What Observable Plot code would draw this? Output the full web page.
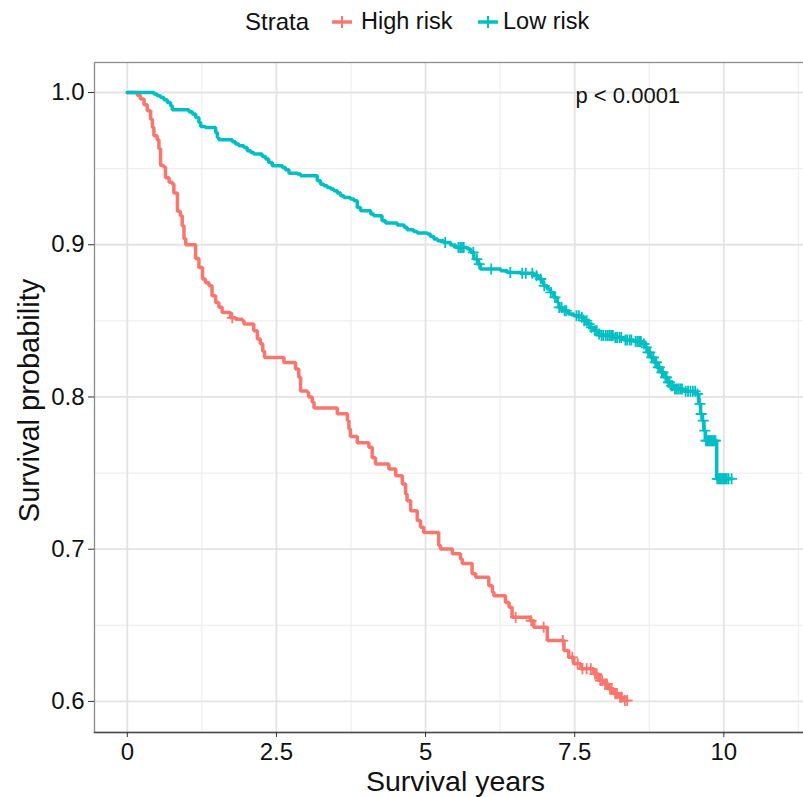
<!DOCTYPE html>
<html>
<head>
<meta charset="utf-8">
<script src="https://cdn.jsdelivr.net/npm/d3@7"></script>
<script src="https://cdn.jsdelivr.net/npm/@observablehq/plot@0.6"></script>
<style>
  html, body { margin: 0; padding: 0; background: #fff; overflow: hidden; width: 803px; height: 797px; }
  #legend { position: relative; height: 44px; width: 803px; font-family: "Liberation Sans", Arial, sans-serif; color: #111; }
  #legend .item { position: absolute; top: 22px; transform: translateY(-50%); white-space: nowrap; line-height: 1; }
  #chart svg { max-width: none !important; display: block; }
</style>
</head>
<body>
<div id="legend"></div>
<div id="chart"></div>
<script>
// ---- data ----
const strata = ["High risk", "Low risk"];
const strataColors = ["#F8766D", "#00BFC4"];

const xMajor = [0, 2.5, 5, 7.5, 10];
const xMinor = [1.25, 3.75, 6.25, 8.75, 11.25];
const yMajor = [0.6, 0.7, 0.8, 0.9, 1.0];
const yMinor = [0.65, 0.75, 0.85, 0.95];

// [time, survival] step points
const highRisk = [
  [0,1],[0.17,0.998],[0.22,0.9957],[0.28,0.992],[0.335,0.988],[0.39,0.9825],[0.42,0.977],[0.446,0.9716],
  [0.50,0.969],[0.53,0.963],[0.558,0.952],[0.61,0.951],[0.64,0.944],[0.70,0.941],[0.75,0.94],[0.78,0.934],
  [0.84,0.922],[0.89,0.919],[0.92,0.9125],[0.95,0.904],[0.98,0.90],[1.145,0.891],[1.20,0.885],[1.26,0.8775],
  [1.31,0.875],[1.37,0.873],[1.42,0.8665],[1.48,0.862],[1.535,0.859],[1.59,0.8555],[1.73,0.852],[1.815,0.851],
  [1.93,0.85],[1.955,0.848],[2.12,0.8435],[2.18,0.838],[2.23,0.835],[2.27,0.830],[2.30,0.826],[2.625,0.8227],
  [2.82,0.8184],[2.875,0.813],[2.905,0.804],[3.02,0.803],[3.04,0.80],[3.10,0.7965],[3.13,0.7928],[3.52,0.789],
  [3.69,0.7845],[3.715,0.779],[3.74,0.774],[3.855,0.770],[4.05,0.767],[4.105,0.760],[4.16,0.756],[4.385,0.7527],
  [4.50,0.7483],[4.61,0.7429],[4.665,0.7363],[4.69,0.7319],[4.75,0.7253],[4.86,0.7188],[4.915,0.7144],[4.97,0.711],
  [5.22,0.7024],[5.25,0.7002],[5.45,0.697],[5.585,0.6936],[5.615,0.6906],[5.78,0.6838],[5.84,0.6816],[6.06,0.676],
  [6.12,0.6717],[6.145,0.6695],[6.34,0.665],[6.40,0.6618],[6.45,0.6553],[6.76,0.653],[6.815,0.6487],[7.04,0.640],
  [7.32,0.6334],[7.40,0.629],[7.485,0.6247],[7.60,0.6214],[7.82,0.618],[7.905,0.6137],[7.99,0.6115],[8.07,0.6083],
  [8.155,0.605],[8.24,0.6028],[8.32,0.6006],[8.38,0.6006]
];
const lowRisk = [
  [0,1],[0.446,0.999],[0.50,0.9978],[0.558,0.9967],[0.613,0.9952],[0.67,0.9934],[0.726,0.9913],[0.754,0.9886],
  [1.033,0.9873],[1.09,0.9858],[1.145,0.9836],[1.20,0.9803],[1.23,0.9777],[1.31,0.977],[1.48,0.9737],[1.51,0.9705],
  [1.535,0.969],[1.76,0.9676],[1.815,0.9661],[1.87,0.965],[1.955,0.9639],[2.01,0.9617],[2.07,0.9606],[2.12,0.9596],
  [2.26,0.958],[2.32,0.9563],[2.37,0.954],[2.43,0.9519],[2.60,0.9508],[2.65,0.9492],[2.71,0.947],[2.85,0.9464],
  [2.905,0.9453],[3.185,0.942],[3.24,0.9398],[3.295,0.9387],[3.35,0.9376],[3.41,0.9366],[3.46,0.9355],[3.52,0.934],
  [3.575,0.9322],[3.63,0.9311],[3.74,0.930],[3.80,0.9289],[3.855,0.9245],[3.91,0.9223],[4.08,0.9202],[4.13,0.919],
  [4.27,0.9158],[4.33,0.9142],[4.525,0.913],[4.64,0.9114],[4.69,0.9099],[4.80,0.9087],[4.86,0.9077],[5.03,0.907],
  [5.08,0.9054],[5.14,0.9037],[5.20,0.9026],[5.30,0.9015],[5.42,0.8998],[5.50,0.8982],[5.70,0.8972],[5.755,0.895],
  [5.81,0.8906],[5.87,0.8873],[5.92,0.884],[6.26,0.8829],[6.37,0.8818],[6.59,0.8812],[6.815,0.8796],[6.90,0.8775],
  [6.955,0.8752],[6.98,0.873],[7.04,0.8709],[7.095,0.8687],[7.15,0.8654],[7.21,0.8621],[7.235,0.8588],[7.29,0.8567],
  [7.40,0.8545],[7.485,0.8534],[7.60,0.8523],[7.65,0.8501],[7.71,0.8479],[7.765,0.8457],[7.82,0.8435],[7.88,0.8414],
  [7.93,0.8403],[8.155,0.8391],[8.32,0.8374],[8.49,0.8365],[8.63,0.8348],[8.69,0.8326],[8.715,0.8293],[8.77,0.826],
  [8.83,0.8227],[8.88,0.8194],[8.94,0.8162],[8.995,0.8129],[9.05,0.8096],[9.105,0.8074],[9.16,0.8053],[9.33,0.8037],
  [9.525,0.802],[9.58,0.7954],[9.61,0.7888],[9.64,0.7844],[9.665,0.7779],[9.69,0.7713],[9.88,0.7462],[10.13,0.7462]
];

// censoring times
const highCensor = [1.76, 6.51, 6.77, 6.98, 7.30, 7.46, 7.55, 7.63, 7.70, 7.77, 7.84, 7.87, 7.93, 7.96,
  8.01, 8.04, 8.09, 8.12, 8.18, 8.21, 8.26, 8.29, 8.34, 8.38];
const lowCensor = [5.33, 5.55, 5.58, 5.61, 5.64, 5.80, 5.86, 5.90, 6.10, 6.42, 6.62, 6.68, 6.79, 6.86, 6.93,
  6.99, 7.10, 7.17, 7.24, 7.28, 7.33, 7.36, 7.53, 7.57, 7.62, 7.66, 7.70, 7.74, 7.78, 7.84, 7.87, 7.91, 7.95,
  7.98, 8.02, 8.05, 8.08, 8.11, 8.14, 8.18, 8.21, 8.25, 8.28, 8.35, 8.38, 8.42, 8.45, 8.52, 8.55, 8.58, 8.61,
  8.66, 8.70, 8.73, 8.76, 8.79, 8.82, 8.85, 8.87, 8.90, 8.92, 8.96, 8.98, 9.02, 9.04, 9.07, 9.09, 9.12, 9.14,
  9.18, 9.21, 9.24, 9.27, 9.30, 9.36, 9.40, 9.44, 9.48, 9.52, 9.56, 9.60, 9.62, 9.655, 9.68, 9.70, 9.72, 9.74,
  9.76, 9.78, 9.80, 9.82, 9.84, 9.86, 9.89, 9.91, 9.93, 9.95, 9.97, 9.99, 10.01, 10.03, 10.05, 10.08, 10.13];

const pLabel = "p < 0.0001";
const xLabel = "Survival years";
const yLabel = "Survival probability";
const legendTitle = "Strata";

// ---- helpers ----
function survAt(curve, t) {
  let s = 1;
  for (const [ti, si] of curve) { if (ti <= t) s = si; else break; }
  return s;
}
const plusSymbol = {
  draw(ctx, size) {
    const r = Math.sqrt(size / Math.PI);
    ctx.moveTo(-r, 0); ctx.lineTo(r, 0);
    ctx.moveTo(0, -r); ctx.lineTo(0, r);
  }
};
const curves = [highRisk, lowRisk];
const censors = [highCensor, lowCensor];
const censorPts = censors.map((ts, k) => ts.map(t => ({t, s: survAt(curves[k], t)})));

// ---- legend ----
const legend = document.getElementById("legend");
function addItem(left, html) {
  const d = document.createElement("div");
  d.className = "item"; d.style.left = left + "px"; d.innerHTML = html;
  legend.appendChild(d);
}
function glyph(color) {
  return `<svg width="20" height="20" style="display:block"><line x1="0" x2="20" y1="10" y2="10" stroke="${color}" stroke-width="3.5"/><line x1="10" x2="10" y1="4" y2="16" stroke="${color}" stroke-width="2"/></svg>`;
}
addItem(245, `<span style="font-size:24px">${legendTitle}</span>`);
addItem(332, glyph(strataColors[0]));
addItem(361, `<span style="font-size:23.5px">${strata[0]}</span>`);
addItem(478, glyph(strataColors[1]));
addItem(503, `<span style="font-size:23.5px">${strata[1]}</span>`);

// ---- chart ----
const font = "Liberation Sans, Arial, sans-serif";
const plot = Plot.plot({
  width: 816,
  height: 753,
  marginTop: 18,
  marginBottom: 65,
  marginLeft: 94,
  marginRight: 0.2,
  style: {fontFamily: font, maxWidth: "none", background: "white", color: "#111"},
  x: {domain: [-0.55, 11.55]},
  y: {domain: [0.5796, 1.0197]},
  marks: [
    Plot.gridX(xMinor, {stroke: "#ebebeb", strokeOpacity: 1, strokeWidth: 1}),
    Plot.gridY(yMinor, {stroke: "#ebebeb", strokeOpacity: 1, strokeWidth: 1}),
    Plot.gridX(xMajor, {stroke: "#e3e3e3", strokeOpacity: 1, strokeWidth: 1.8}),
    Plot.gridY(yMajor, {stroke: "#e3e3e3", strokeOpacity: 1, strokeWidth: 1.8}),
    Plot.frame({stroke: "#8c8c8c", strokeWidth: 1.3}),
    Plot.frame({anchor: "bottom", stroke: "#4a4a4a", strokeWidth: 1.5}),
    Plot.axisX({ticks: xMajor, tickFormat: d => String(d), tickSize: 5, tickPadding: 5, fontSize: 24,
      label: null, stroke: "#333", fill: "#111"}),
    Plot.axisY({ticks: yMajor, tickFormat: d3.format(".1f"), tickSize: 6, tickPadding: 4, fontSize: 24,
      label: null, stroke: "#333", fill: "#111"}),
    ...curves.map((c, k) => Plot.line(c, {x: d => d[0], y: d => d[1], curve: "step-after",
      stroke: strataColors[k], strokeWidth: 3.5, strokeLinejoin: "miter"})),
    ...censorPts.map((pts, k) => Plot.dot(pts, {x: "t", y: "s", symbol: plusSymbol, r: 5.5,
      stroke: strataColors[k], strokeWidth: 1.8, fill: "none"})),
    Plot.text([pLabel], {frameAnchor: "top-left", dx: 481, dy: 33, textAnchor: "start", lineAnchor: "middle",
      fontSize: 22, fill: "#111"}),
    Plot.text([xLabel], {frameAnchor: "bottom", dy: 49, lineAnchor: "middle", fontSize: 28.5, fill: "#111"}),
    Plot.text([yLabel], {frameAnchor: "left", dx: -65, dy: 3, rotate: -90, textAnchor: "middle",
      lineAnchor: "middle", fontSize: 29, fill: "#111"})
  ]
});
document.getElementById("chart").appendChild(plot);
</script>
</body>
</html>
